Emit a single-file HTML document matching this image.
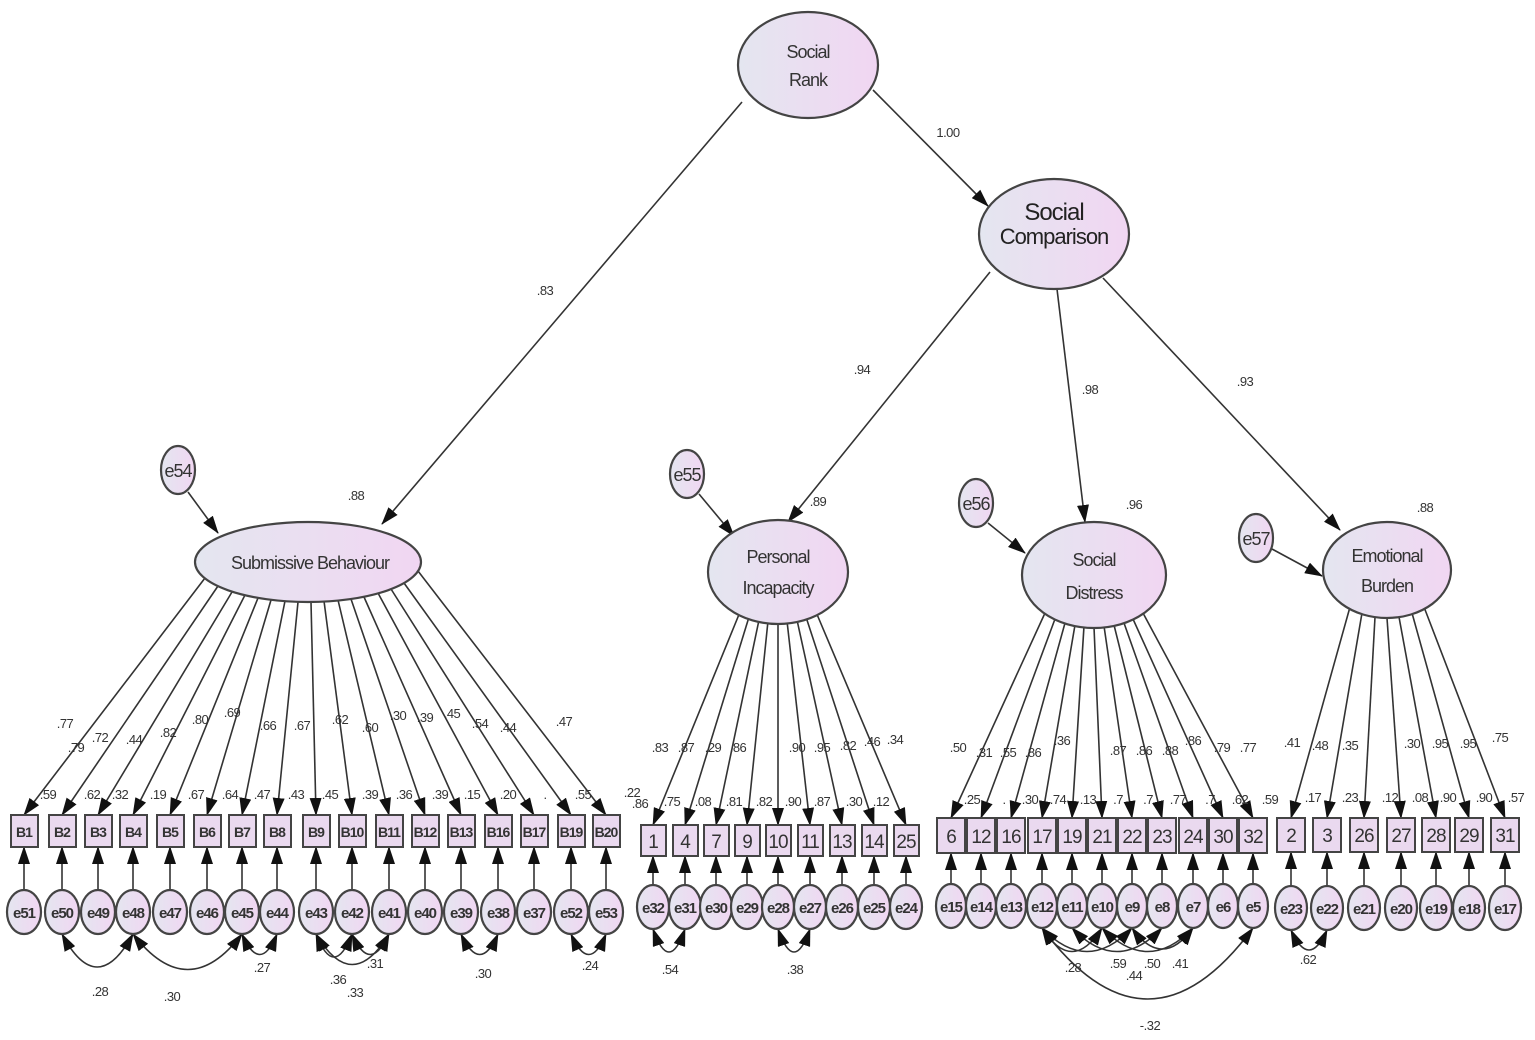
<!DOCTYPE html>
<html><head><meta charset="utf-8"><style>
html,body{margin:0;padding:0;background:#fff;}
svg{display:block;font-family:"Liberation Sans",sans-serif;}
.n{fill:url(#g);stroke:#444;stroke-width:2.2}
.b{fill:#ead9ef;stroke:#444;stroke-width:2}
.l{stroke:#333;stroke-width:1.6;fill:none}
.t{font-size:18px;fill:#333;text-anchor:middle;letter-spacing:-1px}
.s{font-size:13px;fill:#333;text-anchor:middle;letter-spacing:-0.5px}
.v{font-size:14px;fill:#333;font-weight:bold;text-anchor:middle;letter-spacing:-1px}
</style></head><body>
<svg width="1535" height="1040" viewBox="0 0 1535 1040" xmlns="http://www.w3.org/2000/svg">
<defs>
<linearGradient id="g" x1="0" x2="1" y1="0" y2="0"><stop offset="0" stop-color="#e4e6f0"/><stop offset="1" stop-color="#f1d6f2"/></linearGradient>
<marker id="a" markerUnits="userSpaceOnUse" markerWidth="18" markerHeight="12" refX="17" refY="6" orient="auto-start-reverse"><path d="M0,0 L18,6 L0,12 Z" fill="#111"/></marker>
</defs>

<!-- structural paths -->
<g class="l" marker-end="url(#a)">
<line x1="742" y1="102" x2="382" y2="524"/>
<line x1="873" y1="90" x2="988" y2="206"/>
<line x1="990" y1="272" x2="788" y2="522"/>
<line x1="1057" y1="289" x2="1085" y2="522"/>
<line x1="1103" y1="278" x2="1340" y2="530"/>
<line x1="188" y1="492" x2="218" y2="533"/>
<line x1="699" y1="494" x2="734" y2="536"/>
<line x1="988" y1="523" x2="1025" y2="553"/>
<line x1="1272" y1="549" x2="1322" y2="576"/>
</g>
<g class="s"><text x="545" y="295">.83</text><text x="948" y="137">1.00</text><text x="862" y="374">.94</text><text x="1090" y="394">.98</text><text x="1245" y="386">.93</text>
<text x="356" y="500">.88</text><text x="818" y="506">.89</text><text x="1134" y="509">.96</text><text x="1425" y="512">.88</text></g>

<!-- loadings: submissive -->
<g class="l" marker-end="url(#a)">
<line x1="205" y1="578" x2="24" y2="815"/><line x1="218" y1="586" x2="62" y2="815"/><line x1="232" y1="592" x2="98" y2="815"/><line x1="245" y1="595" x2="133" y2="815"/><line x1="258" y1="598" x2="170" y2="815"/><line x1="271" y1="600" x2="207" y2="815"/><line x1="285" y1="601" x2="242" y2="815"/><line x1="298" y1="602" x2="277" y2="815"/><line x1="311" y1="602" x2="316" y2="815"/><line x1="324" y1="601" x2="352" y2="815"/><line x1="338" y1="600" x2="389" y2="815"/><line x1="351" y1="599" x2="425" y2="815"/><line x1="364" y1="597" x2="461" y2="815"/><line x1="378" y1="593" x2="498" y2="815"/><line x1="391" y1="589" x2="534" y2="815"/><line x1="404" y1="583" x2="571" y2="815"/><line x1="418" y1="571" x2="606" y2="815"/>
<!-- personal -->
<line x1="740" y1="612" x2="653" y2="825"/><line x1="749" y1="617" x2="685" y2="825"/><line x1="759" y1="620" x2="716" y2="825"/><line x1="768" y1="621" x2="747" y2="825"/><line x1="778" y1="622" x2="778" y2="825"/><line x1="787" y1="621" x2="810" y2="825"/><line x1="797" y1="620" x2="842" y2="825"/><line x1="806" y1="617" x2="874" y2="825"/><line x1="816" y1="612" x2="906" y2="825"/>
<!-- distress -->
<line x1="1045" y1="613" x2="951" y2="818"/><line x1="1055" y1="619" x2="981" y2="818"/><line x1="1065" y1="623" x2="1011" y2="818"/><line x1="1075" y1="625" x2="1042" y2="818"/><line x1="1084" y1="626" x2="1072" y2="818"/><line x1="1094" y1="627" x2="1102" y2="818"/><line x1="1104" y1="626" x2="1132" y2="818"/><line x1="1114" y1="625" x2="1162" y2="818"/><line x1="1124" y1="623" x2="1193" y2="818"/><line x1="1133" y1="619" x2="1223" y2="818"/><line x1="1143" y1="613" x2="1253" y2="818"/>
<!-- emotional -->
<line x1="1350" y1="607" x2="1291" y2="818"/><line x1="1362" y1="613" x2="1327" y2="818"/><line x1="1375" y1="617" x2="1364" y2="818"/><line x1="1387" y1="618" x2="1401" y2="818"/><line x1="1399" y1="617" x2="1436" y2="818"/><line x1="1412" y1="613" x2="1469" y2="818"/><line x1="1424" y1="607" x2="1505" y2="818"/>
</g>

<!-- error -> indicator arrows -->
<g class="l" marker-end="url(#a)">
<line x1="24" y1="890" x2="24" y2="847"/><line x1="62" y1="890" x2="62" y2="847"/><line x1="98" y1="890" x2="98" y2="847"/><line x1="133" y1="890" x2="133" y2="847"/><line x1="170" y1="890" x2="170" y2="847"/><line x1="207" y1="890" x2="207" y2="847"/><line x1="242" y1="890" x2="242" y2="847"/><line x1="277" y1="890" x2="277" y2="847"/><line x1="316" y1="890" x2="316" y2="847"/><line x1="352" y1="890" x2="352" y2="847"/><line x1="389" y1="890" x2="389" y2="847"/><line x1="425" y1="890" x2="425" y2="847"/><line x1="461" y1="890" x2="461" y2="847"/><line x1="498" y1="890" x2="498" y2="847"/><line x1="534" y1="890" x2="534" y2="847"/><line x1="571" y1="890" x2="571" y2="847"/><line x1="606" y1="890" x2="606" y2="847"/>
<line x1="653" y1="885" x2="653" y2="856"/><line x1="685" y1="885" x2="685" y2="856"/><line x1="716" y1="885" x2="716" y2="856"/><line x1="747" y1="885" x2="747" y2="856"/><line x1="778" y1="885" x2="778" y2="856"/><line x1="810" y1="885" x2="810" y2="856"/><line x1="842" y1="885" x2="842" y2="856"/><line x1="874" y1="885" x2="874" y2="856"/><line x1="906" y1="885" x2="906" y2="856"/>
<line x1="951" y1="884" x2="951" y2="853"/><line x1="981" y1="884" x2="981" y2="853"/><line x1="1011" y1="884" x2="1011" y2="853"/><line x1="1042" y1="884" x2="1042" y2="853"/><line x1="1072" y1="884" x2="1072" y2="853"/><line x1="1102" y1="884" x2="1102" y2="853"/><line x1="1132" y1="884" x2="1132" y2="853"/><line x1="1162" y1="884" x2="1162" y2="853"/><line x1="1193" y1="884" x2="1193" y2="853"/><line x1="1223" y1="884" x2="1223" y2="853"/><line x1="1253" y1="884" x2="1253" y2="853"/>
<line x1="1291" y1="886" x2="1291" y2="852"/><line x1="1327" y1="886" x2="1327" y2="852"/><line x1="1364" y1="886" x2="1364" y2="852"/><line x1="1401" y1="886" x2="1401" y2="852"/><line x1="1436" y1="886" x2="1436" y2="852"/><line x1="1469" y1="886" x2="1469" y2="852"/><line x1="1505" y1="886" x2="1505" y2="852"/>
</g>

<!-- covariances -->
<g class="l" marker-start="url(#a)" marker-end="url(#a)">
<path d="M62,934 Q97,1000 133,934"/><path d="M133,934 Q188,1005 242,934"/><path d="M242,934 Q260,975 277,934"/>
<path d="M316,934 Q352,995 389,934"/><path d="M316,934 Q334,980 352,934"/><path d="M352,934 Q370,975 389,934"/>
<path d="M461,934 Q480,975 498,934"/><path d="M571,934 Q589,975 606,934"/>
<path d="M653,929 Q669,975 685,929"/><path d="M778,929 Q794,975 810,929"/>
<path d="M1042,928 Q1148,1070 1253,928"/><path d="M1042,928 Q1072,975 1102,928"/><path d="M1072,928 Q1117,975 1162,928"/><path d="M1102,928 Q1148,975 1193,928"/><path d="M1132,928 Q1162,970 1193,928"/><path d="M1042,928 Q1087,975 1132,928"/>
<path d="M1291,930 Q1309,970 1327,930"/>
</g>
<g class="s"><text x="100" y="996">.28</text><text x="172" y="1001">.30</text><text x="262" y="972">.27</text><text x="338" y="984">.36</text><text x="355" y="997">.33</text><text x="375" y="968">.31</text><text x="483" y="978">.30</text><text x="590" y="970">.24</text>
<text x="670" y="974">.54</text><text x="795" y="974">.38</text><text x="1073" y="972">.28</text><text x="1118" y="968">.59</text><text x="1134" y="980">.44</text><text x="1152" y="968">.50</text><text x="1180" y="968">.41</text><text x="1150" y="1030">-.32</text><text x="1308" y="964">.62</text></g>

<!-- loading labels -->
<g class="s">
<text x="65" y="728">.77</text><text x="76" y="752">.79</text><text x="100" y="742">.72</text><text x="134" y="744">.44</text><text x="168" y="737">.82</text><text x="200" y="724">.80</text><text x="232" y="717">.69</text><text x="268" y="730">.66</text><text x="302" y="730">.67</text><text x="340" y="724">.62</text><text x="370" y="732">.60</text><text x="398" y="720">.30</text><text x="425" y="722">.39</text><text x="452" y="718">.45</text><text x="480" y="728">.54</text><text x="508" y="732">.44</text><text x="564" y="726">.47</text>
<text x="48" y="799">.59</text><text x="92" y="799">.62</text><text x="120" y="799">.32</text><text x="158" y="799">.19</text><text x="196" y="799">.67</text><text x="230" y="799">.64</text><text x="262" y="799">.47</text><text x="296" y="799">.43</text><text x="330" y="799">.45</text><text x="370" y="799">.39</text><text x="404" y="799">.36</text><text x="440" y="799">.39</text><text x="472" y="799">.15</text><text x="508" y="799">.20</text><text x="545" y="799">.</text><text x="583" y="799">.55</text><text x="632" y="797">.22</text>
<text x="660" y="752">.83</text><text x="686" y="752">.87</text><text x="713" y="752">.29</text><text x="738" y="752">.86</text><text x="797" y="752">.90</text><text x="822" y="752">.95</text><text x="848" y="750">.82</text><text x="872" y="746">.46</text><text x="895" y="744">.34</text>
<text x="640" y="808">.86</text><text x="672" y="806">.75</text><text x="703" y="806">.08</text><text x="734" y="806">.81</text><text x="764" y="806">.82</text><text x="793" y="806">.90</text><text x="822" y="806">.87</text><text x="854" y="806">.30</text><text x="881" y="806">.12</text>
<text x="958" y="752">.50</text><text x="984" y="757">.31</text><text x="1008" y="757">.55</text><text x="1033" y="757">.86</text><text x="1062" y="745">.36</text><text x="1118" y="755">.87</text><text x="1144" y="755">.86</text><text x="1170" y="755">.88</text><text x="1193" y="745">.86</text><text x="1222" y="752">.79</text><text x="1248" y="752">.77</text>
<text x="972" y="804">.25</text><text x="1004" y="804">.</text><text x="1030" y="804">.30</text><text x="1058" y="804">.74</text><text x="1088" y="804">.13</text><text x="1118" y="804">.7</text><text x="1148" y="804">.7</text><text x="1178" y="804">.77</text><text x="1210" y="804">.7</text><text x="1240" y="804">.62</text><text x="1270" y="804">.59</text>
<text x="1292" y="747">.41</text><text x="1320" y="750">.48</text><text x="1350" y="750">.35</text><text x="1412" y="748">.30</text><text x="1440" y="748">.95</text><text x="1468" y="748">.95</text><text x="1500" y="742">.75</text>
<text x="1313" y="802">.17</text><text x="1350" y="802">.23</text><text x="1390" y="802">.12</text><text x="1420" y="802">.08</text><text x="1448" y="802">.90</text><text x="1484" y="802">.90</text><text x="1516" y="802">.57</text>
</g>

<!-- latent nodes -->
<ellipse class="n" cx="808" cy="65" rx="70" ry="53"/>
<text class="t" x="808" y="58">Social</text><text class="t" x="808" y="86">Rank</text>
<ellipse class="n" cx="1054" cy="234" rx="75" ry="55"/>
<text class="t" x="1054" y="220" style="font-size:24px;fill:#222">Social</text><text class="t" x="1054" y="244" style="font-size:22px;fill:#222">Comparison</text>
<ellipse class="n" cx="308" cy="562" rx="113" ry="40"/>
<text class="t" x="310" y="569">Submissive Behaviour</text>
<ellipse class="n" cx="778" cy="572" rx="70" ry="52"/>
<text class="t" x="778" y="563">Personal</text><text class="t" x="778" y="594">Incapacity</text>
<ellipse class="n" cx="1094" cy="575" rx="72" ry="53"/>
<text class="t" x="1094" y="566">Social</text><text class="t" x="1094" y="599">Distress</text>
<ellipse class="n" cx="1387" cy="570" rx="64" ry="48"/>
<text class="t" x="1387" y="562">Emotional</text><text class="t" x="1387" y="592">Burden</text>
<ellipse class="n" cx="178" cy="470" rx="17" ry="24"/><text class="t" x="178" y="477">e54</text>
<ellipse class="n" cx="687" cy="474" rx="17" ry="24"/><text class="t" x="687" y="481">e55</text>
<ellipse class="n" cx="976" cy="503" rx="17" ry="24"/><text class="t" x="976" y="510">e56</text>
<ellipse class="n" cx="1256" cy="538" rx="17" ry="24"/><text class="t" x="1256" y="545">e57</text>

<!-- indicators -->
<g>
<rect class="b" x="11" y="815" width="27" height="32"/><rect class="b" x="49" y="815" width="27" height="32"/><rect class="b" x="85" y="815" width="27" height="32"/><rect class="b" x="120" y="815" width="27" height="32"/><rect class="b" x="157" y="815" width="27" height="32"/><rect class="b" x="194" y="815" width="27" height="32"/><rect class="b" x="229" y="815" width="27" height="32"/><rect class="b" x="264" y="815" width="27" height="32"/><rect class="b" x="303" y="815" width="27" height="32"/><rect class="b" x="339" y="815" width="27" height="32"/><rect class="b" x="376" y="815" width="27" height="32"/><rect class="b" x="412" y="815" width="27" height="32"/><rect class="b" x="448" y="815" width="27" height="32"/><rect class="b" x="485" y="815" width="27" height="32"/><rect class="b" x="521" y="815" width="27" height="32"/><rect class="b" x="558" y="815" width="27" height="32"/><rect class="b" x="593" y="815" width="27" height="32"/>
<rect class="b" x="641" y="825" width="25" height="31"/><rect class="b" x="673" y="825" width="25" height="31"/><rect class="b" x="704" y="825" width="25" height="31"/><rect class="b" x="735" y="825" width="25" height="31"/><rect class="b" x="766" y="825" width="25" height="31"/><rect class="b" x="798" y="825" width="25" height="31"/><rect class="b" x="830" y="825" width="25" height="31"/><rect class="b" x="862" y="825" width="25" height="31"/><rect class="b" x="894" y="825" width="25" height="31"/>
<rect class="b" x="937" y="818" width="28" height="35"/><rect class="b" x="967" y="818" width="28" height="35"/><rect class="b" x="997" y="818" width="28" height="35"/><rect class="b" x="1028" y="818" width="28" height="35"/><rect class="b" x="1058" y="818" width="28" height="35"/><rect class="b" x="1088" y="818" width="28" height="35"/><rect class="b" x="1118" y="818" width="28" height="35"/><rect class="b" x="1148" y="818" width="28" height="35"/><rect class="b" x="1179" y="818" width="28" height="35"/><rect class="b" x="1209" y="818" width="28" height="35"/><rect class="b" x="1239" y="818" width="28" height="35"/>
<rect class="b" x="1277" y="818" width="28" height="34"/><rect class="b" x="1313" y="818" width="28" height="34"/><rect class="b" x="1350" y="818" width="28" height="34"/><rect class="b" x="1387" y="818" width="28" height="34"/><rect class="b" x="1422" y="818" width="28" height="34"/><rect class="b" x="1455" y="818" width="28" height="34"/><rect class="b" x="1491" y="818" width="28" height="34"/>
</g>
<g class="v">
<text x="24" y="837">B1</text><text x="62" y="837">B2</text><text x="98" y="837">B3</text><text x="133" y="837">B4</text><text x="170" y="837">B5</text><text x="207" y="837">B6</text><text x="242" y="837">B7</text><text x="277" y="837">B8</text><text x="316" y="837">B9</text><text x="352" y="837">B10</text><text x="389" y="837">B11</text><text x="425" y="837">B12</text><text x="461" y="837">B13</text><text x="498" y="837">B16</text><text x="534" y="837">B17</text><text x="571" y="837">B19</text><text x="606" y="837">B20</text>
</g>
<g class="t" style="font-size:19px">
<text x="653" y="848">1</text><text x="685" y="848">4</text><text x="716" y="848">7</text><text x="747" y="848">9</text><text x="778" y="848">10</text><text x="810" y="848">11</text><text x="842" y="848">13</text><text x="874" y="848">14</text><text x="906" y="848">25</text>
<text x="951" y="843">6</text><text x="981" y="843">12</text><text x="1011" y="843">16</text><text x="1042" y="843">17</text><text x="1072" y="843">19</text><text x="1102" y="843">21</text><text x="1132" y="843">22</text><text x="1162" y="843">23</text><text x="1193" y="843">24</text><text x="1223" y="843">30</text><text x="1253" y="843">32</text>
<text x="1291" y="842">2</text><text x="1327" y="842">3</text><text x="1364" y="842">26</text><text x="1401" y="842">27</text><text x="1436" y="842">28</text><text x="1469" y="842">29</text><text x="1505" y="842">31</text>
</g>

<!-- error circles -->
<g>
<ellipse class="n" cx="24" cy="912" rx="17" ry="22"/><ellipse class="n" cx="62" cy="912" rx="17" ry="22"/><ellipse class="n" cx="98" cy="912" rx="17" ry="22"/><ellipse class="n" cx="133" cy="912" rx="17" ry="22"/><ellipse class="n" cx="170" cy="912" rx="17" ry="22"/><ellipse class="n" cx="207" cy="912" rx="17" ry="22"/><ellipse class="n" cx="242" cy="912" rx="17" ry="22"/><ellipse class="n" cx="277" cy="912" rx="17" ry="22"/><ellipse class="n" cx="316" cy="912" rx="17" ry="22"/><ellipse class="n" cx="352" cy="912" rx="17" ry="22"/><ellipse class="n" cx="389" cy="912" rx="17" ry="22"/><ellipse class="n" cx="425" cy="912" rx="17" ry="22"/><ellipse class="n" cx="461" cy="912" rx="17" ry="22"/><ellipse class="n" cx="498" cy="912" rx="17" ry="22"/><ellipse class="n" cx="534" cy="912" rx="17" ry="22"/><ellipse class="n" cx="571" cy="912" rx="17" ry="22"/><ellipse class="n" cx="606" cy="912" rx="17" ry="22"/>
<ellipse class="n" cx="653" cy="907" rx="16" ry="22"/><ellipse class="n" cx="685" cy="907" rx="16" ry="22"/><ellipse class="n" cx="716" cy="907" rx="16" ry="22"/><ellipse class="n" cx="747" cy="907" rx="16" ry="22"/><ellipse class="n" cx="778" cy="907" rx="16" ry="22"/><ellipse class="n" cx="810" cy="907" rx="16" ry="22"/><ellipse class="n" cx="842" cy="907" rx="16" ry="22"/><ellipse class="n" cx="874" cy="907" rx="16" ry="22"/><ellipse class="n" cx="906" cy="907" rx="16" ry="22"/>
<ellipse class="n" cx="951" cy="906" rx="15" ry="22"/><ellipse class="n" cx="981" cy="906" rx="15" ry="22"/><ellipse class="n" cx="1011" cy="906" rx="15" ry="22"/><ellipse class="n" cx="1042" cy="906" rx="15" ry="22"/><ellipse class="n" cx="1072" cy="906" rx="15" ry="22"/><ellipse class="n" cx="1102" cy="906" rx="15" ry="22"/><ellipse class="n" cx="1132" cy="906" rx="15" ry="22"/><ellipse class="n" cx="1162" cy="906" rx="15" ry="22"/><ellipse class="n" cx="1193" cy="906" rx="15" ry="22"/><ellipse class="n" cx="1223" cy="906" rx="15" ry="22"/><ellipse class="n" cx="1253" cy="906" rx="15" ry="22"/>
<ellipse class="n" cx="1291" cy="908" rx="16" ry="22"/><ellipse class="n" cx="1327" cy="908" rx="16" ry="22"/><ellipse class="n" cx="1364" cy="908" rx="16" ry="22"/><ellipse class="n" cx="1401" cy="908" rx="16" ry="22"/><ellipse class="n" cx="1436" cy="908" rx="16" ry="22"/><ellipse class="n" cx="1469" cy="908" rx="16" ry="22"/><ellipse class="n" cx="1505" cy="908" rx="16" ry="22"/>
</g>
<g class="v" style="font-size:15px">
<text x="24" y="918">e51</text><text x="62" y="918">e50</text><text x="98" y="918">e49</text><text x="133" y="918">e48</text><text x="170" y="918">e47</text><text x="207" y="918">e46</text><text x="242" y="918">e45</text><text x="277" y="918">e44</text><text x="316" y="918">e43</text><text x="352" y="918">e42</text><text x="389" y="918">e41</text><text x="425" y="918">e40</text><text x="461" y="918">e39</text><text x="498" y="918">e38</text><text x="534" y="918">e37</text><text x="571" y="918">e52</text><text x="606" y="918">e53</text>
<text x="653" y="913">e32</text><text x="685" y="913">e31</text><text x="716" y="913">e30</text><text x="747" y="913">e29</text><text x="778" y="913">e28</text><text x="810" y="913">e27</text><text x="842" y="913">e26</text><text x="874" y="913">e25</text><text x="906" y="913">e24</text>
<text x="951" y="912">e15</text><text x="981" y="912">e14</text><text x="1011" y="912">e13</text><text x="1042" y="912">e12</text><text x="1072" y="912">e11</text><text x="1102" y="912">e10</text><text x="1132" y="912">e9</text><text x="1162" y="912">e8</text><text x="1193" y="912">e7</text><text x="1223" y="912">e6</text><text x="1253" y="912">e5</text>
<text x="1291" y="914">e23</text><text x="1327" y="914">e22</text><text x="1364" y="914">e21</text><text x="1401" y="914">e20</text><text x="1436" y="914">e19</text><text x="1469" y="914">e18</text><text x="1505" y="914">e17</text>
</g>
</svg>
</body></html>
